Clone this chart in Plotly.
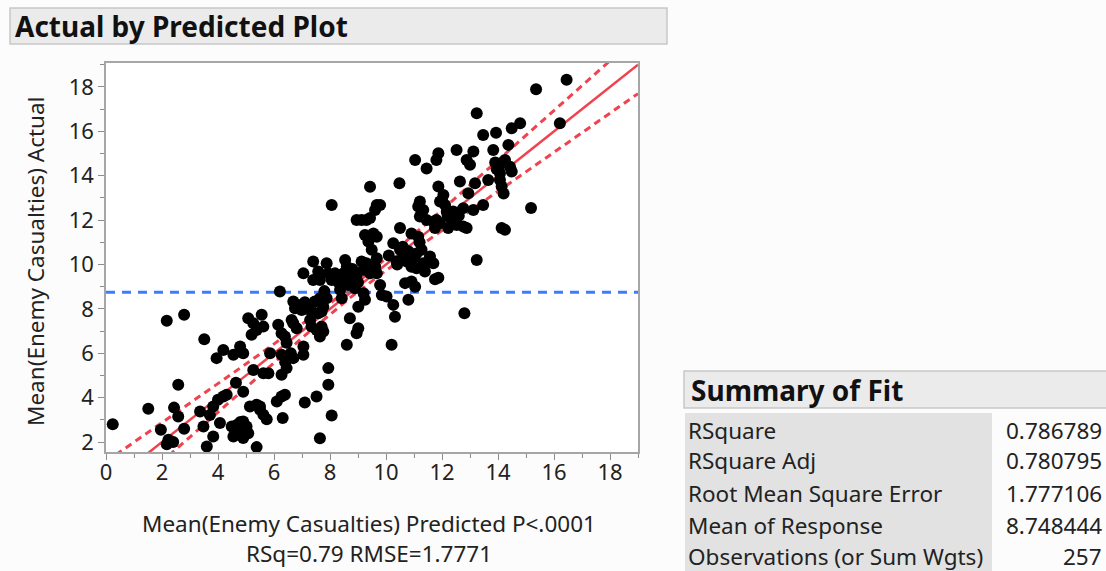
import numpy as np
import plotly.graph_objects as go

# ---------------- data ----------------
predicted = [
    0.24, 1.51, 1.96, 2.23, 2.17, 2.43, 2.58, 2.58, 2.79, 3.36, 3.48, 3.60, 3.51, 3.71, 3.83, 4.00,
    4.19, 4.31, 4.07, 3.83, 3.95, 4.19, 4.64, 4.90, 4.55, 4.79, 4.90, 4.49, 4.67, 4.90, 5.02, 5.08,
    4.90, 4.55, 5.14, 5.38, 5.50, 5.62, 5.74, 5.38, 5.20, 5.38, 5.26, 5.62, 5.80, 5.86, 6.27, 6.45,
    6.69, 6.27, 6.45, 6.10, 6.27, 6.39, 6.31, 7.10, 6.27, 6.39, 6.45, 7.05, 7.05,
    2.17, 2.79, 7.64, 8.06, 7.94, 7.94, 7.52,
    6.21, 7.05, 7.40, 7.40, 7.58, 7.88, 7.94, 7.64, 6.69, 6.87, 6.99, 6.75, 7.29, 7.46, 7.64, 7.34,
    5.08, 5.26, 5.56, 5.62, 6.15, 6.63, 6.69, 6.81, 7.34, 7.52, 7.70, 7.76, 7.64,
    8.54, 8.60, 8.48, 8.71, 8.60, 8.83, 8.95, 8.65, 8.89, 8.36, 8.42, 9.13, 9.30, 9.19, 9.43, 9.67,
    9.49, 9.79, 10.02, 9.25, 9.55, 9.67, 9.37, 10.26, 10.50, 10.62, 10.38, 10.74, 10.91, 11.09, 11.33,
    11.27, 11.15, 10.91, 10.68, 10.91, 9.85, 10.26, 10.32, 10.80, 8.71, 9.01, 8.95, 8.60, 10.20, 9.25,
    9.01, 8.06, 8.18, 7.88, 7.76, 7.70, 7.29, 7.58,
    11.75, 11.87, 11.39, 11.04, 11.09, 9.67, 9.61,
    8.06, 9.43, 10.48, 9.67, 9.79, 9.61, 8.95, 9.13, 9.30, 9.43, 11.04, 11.45, 11.87, 11.80, 12.52,
    13.12, 12.88, 13.00, 13.83, 14.37, 14.25, 14.07, 14.43, 14.49, 13.65, 14.07, 14.13, 14.07, 11.87,
    12.05, 11.93, 12.11, 12.17, 12.64, 13.18, 12.94, 12.76, 13.12, 13.47, 12.40, 12.34, 12.52, 12.76,
    12.88, 12.22, 11.21, 11.15, 11.33, 11.21, 10.50, 11.45, 11.69, 11.80, 11.93, 11.75, 14.13, 14.25,
    13.24, 11.45, 11.69, 11.57,
    16.45, 15.36, 16.21, 13.24, 14.79, 14.49, 13.47, 13.93, 15.18, 12.80, 13.95, 14.20,
    8.70, 8.80, 9.00, 10.60, 10.80, 11.00, 4.70, 4.80, 12.20, 12.60, 7.10, 7.20, 6.40, 5.50, 9.60,
    10.10, 11.20, 12.00, 13.90, 8.30, 7.80, 9.20, 10.40, 6.60, 2.40,
]
actual = [
    2.80, 3.50, 2.55, 2.10, 1.90, 3.55, 3.15, 4.58, 2.60, 3.37, 2.70, 1.80, 6.63, 3.22, 3.60, 3.90,
    4.05, 4.13, 2.86, 2.25, 5.78, 6.15, 4.67, 4.27, 5.93, 6.30, 6.00, 2.70, 2.77, 2.92, 2.70, 2.40,
    2.18, 2.25, 3.60, 3.68, 3.45, 3.23, 3.03, 1.77, 6.83, 7.05, 5.25, 5.10, 5.10, 6.00, 5.93, 5.70,
    5.78, 5.03, 5.33, 3.83, 4.05, 4.13, 3.08, 3.78, 6.90, 6.75, 6.47, 6.30, 5.93,
    7.46, 7.73, 2.17, 3.20, 4.58, 5.33, 4.05,
    8.78, 9.60, 10.13, 9.30, 9.68, 10.06, 9.60, 9.30, 8.33, 8.18, 7.95, 8.03, 8.10, 8.33, 8.48, 7.88,
    7.58, 7.35, 7.73, 7.20, 7.28, 7.50, 7.35, 7.13, 7.20, 7.05, 7.20, 6.98, 6.75,
    10.20, 9.90, 9.60, 9.60, 9.30, 9.30, 9.53, 9.08, 8.93, 8.86, 8.48, 10.13, 10.06, 9.76, 9.60, 10.28,
    10.66, 9.08, 8.56, 11.33, 11.40, 11.25, 11.03, 10.96, 10.66, 10.43, 10.13, 10.13, 9.90, 9.83, 10.06,
    10.66, 11.25, 11.40, 9.16, 9.23, 8.63, 8.18, 7.65, 8.41, 7.58, 7.13, 6.90, 6.38, 6.38, 8.41,
    8.10, 9.30, 9.60, 8.48, 8.10, 7.88, 7.50, 7.80,
    9.34, 9.40, 9.68, 9.00, 10.50, 9.60, 9.90,
    12.68, 13.50, 13.66, 12.68, 12.68, 12.46, 12.00, 12.00, 12.00, 12.09, 14.71, 14.33, 15.01, 14.71, 15.16,
    15.09, 14.71, 14.49, 15.16, 15.39, 14.71, 14.49, 14.41, 14.19, 13.81, 13.81, 13.51, 14.11, 13.51,
    13.13, 12.84, 12.68, 12.38, 13.74, 13.66, 13.21, 12.54, 12.46, 12.68, 12.39, 12.01, 11.78, 11.71,
    11.64, 11.64, 12.84, 12.61, 12.46, 12.16, 11.64, 12.00, 11.93, 12.00, 11.86, 11.64, 11.64, 11.56,
    10.20, 10.06, 10.06, 10.36,
    18.32, 17.90, 16.36, 16.82, 16.36, 16.14, 15.84, 15.94, 12.55, 7.80, 14.30, 13.20,
    9.40, 9.80, 9.20, 10.80, 10.60, 10.30, 2.50, 2.90, 12.20, 12.20, 8.30, 8.00, 5.60, 3.60, 9.90,
    10.40, 11.00, 12.90, 14.60, 9.20, 8.80, 8.70, 10.00, 6.00, 2.00,
]

x_ticks = [0, 2, 4, 6, 8, 10, 12, 14, 16, 18]
y_ticks = [2, 4, 6, 8, 10, 12, 14, 16, 18]
x_range = [0, 19]
y_range = [1.55, 19.08]

mean_response = 8.748444
ci_half_center = 0.22   # half-width of confidence band at the mean
ci_slope = 0.125        # growth of band away from the mean

summary_labels = ["RSquare", "RSquare Adj", "Root Mean Square Error",
                  "Mean of Response", "Observations (or Sum Wgts)"]
summary_values = ["0.786789", "0.780795", "1.777106", "8.748444", "257"]

plot_title = "Actual by Predicted Plot"
x_title_1 = "Mean(Enemy Casualties) Predicted P<.0001"
x_title_2 = "RSq=0.79 RMSE=1.7771"
y_title = "Mean(Enemy Casualties) Actual"
table_title = "Summary of Fit"

# ---------------- layout geometry (pixels) ----------------
W, H = 1106, 571
L, R, T, B = 106, 638, 63, 452
FONT = "Noto Sans, Open Sans, sans-serif"
TXT = 22.5
BOLD = 28
TXT_COLOR = "#222222"


def px(x):
    return (x - L) / (R - L)


def py(y):
    return (B - y) / (B - T)


fig = go.Figure()

xs = np.linspace(x_range[0], x_range[1], 300)
half = np.sqrt(ci_half_center ** 2 + (ci_slope * (xs - mean_response)) ** 2)
red = "#f0424f"
fig.add_trace(go.Scatter(x=[x_range[0], x_range[1]], y=[mean_response, mean_response],
                         mode="lines", line=dict(color="#3d7cff", width=3, dash="9px,7px"),
                         hoverinfo="skip"))
fig.add_trace(go.Scatter(x=xs, y=xs + half, mode="lines",
                         line=dict(color=red, width=3, dash="7px,5px"), hoverinfo="skip"))
fig.add_trace(go.Scatter(x=xs, y=xs - half, mode="lines",
                         line=dict(color=red, width=3, dash="7px,5px"), hoverinfo="skip"))
fig.add_trace(go.Scatter(x=[x_range[0], x_range[1]], y=[x_range[0], x_range[1]], mode="lines",
                         line=dict(color=red, width=2.5), hoverinfo="skip"))

fig.add_trace(go.Scatter(x=predicted, y=actual, mode="markers",
                         marker=dict(color="black", size=12, line=dict(width=0))))

axis_common = dict(showgrid=False, zeroline=False, showline=True, linecolor="#a6a6a6",
                   linewidth=1.5, mirror=True, ticks="outside", ticklen=6, tickwidth=1,
                   tickcolor="#8c8c8c",
                   tickfont=dict(family=FONT, size=22, color=TXT_COLOR),
                   minor=dict(dtick=1, ticks="outside", ticklen=4, tickcolor="#8c8c8c", showgrid=False))

fig.update_xaxes(range=x_range, tickvals=x_ticks, ticklabelstandoff=-6, **axis_common)
fig.update_yaxes(range=y_range, tickvals=y_ticks, **axis_common)

shapes = []
annotations = []

# title bar
shapes.append(dict(type="rect", xref="paper", yref="paper",
                   x0=px(10), x1=px(667), y0=py(44), y1=py(8),
                   fillcolor="#ebebeb", line=dict(color="#c8c8c8", width=1.5), layer="below"))
annotations.append(dict(text=f"<b>{plot_title}</b>", xref="paper", yref="paper",
                        x=px(13), y=py(26), xanchor="left", yanchor="middle", showarrow=False,
                        font=dict(family=FONT, size=BOLD, color="#111111")))

# axis titles
annotations.append(dict(text=y_title, xref="paper", yref="paper", x=px(35), y=py(262),
                        textangle=-90, xanchor="center", yanchor="middle", showarrow=False,
                        font=dict(family=FONT, size=TXT, color=TXT_COLOR)))
annotations.append(dict(text=x_title_1, xref="paper", yref="paper", x=px(369), y=py(523),
                        xanchor="center", yanchor="middle", showarrow=False,
                        font=dict(family=FONT, size=TXT, color=TXT_COLOR)))
annotations.append(dict(text=x_title_2, xref="paper", yref="paper", x=px(369), y=py(553),
                        xanchor="center", yanchor="middle", showarrow=False,
                        font=dict(family=FONT, size=TXT, color=TXT_COLOR)))

# summary of fit table
shapes.append(dict(type="rect", xref="paper", yref="paper",
                   x0=px(684), x1=px(1110), y0=py(408), y1=py(371),
                   fillcolor="#ebebeb", line=dict(color="#c8c8c8", width=1.5), layer="below"))
annotations.append(dict(text=f"<b>{table_title}</b>", xref="paper", yref="paper",
                        x=px(689), y=py(390), xanchor="left", yanchor="middle", showarrow=False,
                        font=dict(family=FONT, size=BOLD, color="#111111")))
shapes.append(dict(type="rect", xref="paper", yref="paper",
                   x0=px(685), x1=px(992), y0=py(575), y1=py(413),
                   fillcolor="#e2e2e2", line=dict(width=0), layer="below"))
row_y = [430, 461, 493, 525, 556]
for lab, val, yy in zip(summary_labels, summary_values, row_y):
    annotations.append(dict(text=lab, xref="paper", yref="paper", x=px(686), y=py(yy),
                            xanchor="left", yanchor="middle", showarrow=False,
                            font=dict(family=FONT, size=TXT, color=TXT_COLOR)))
    annotations.append(dict(text=val, xref="paper", yref="paper", x=px(1104), y=py(yy),
                            xanchor="right", yanchor="middle", showarrow=False,
                            font=dict(family=FONT, size=TXT, color=TXT_COLOR)))

fig.update_layout(width=W, height=H, margin=dict(l=L, r=W - R, t=T, b=H - B),
                  paper_bgcolor="#fcfcfc", plot_bgcolor="white", showlegend=False,
                  shapes=shapes, annotations=annotations)

fig.write_html("out.html", config={"displayModeBar": False},
               post_script="document.body.style.margin='0';document.body.style.overflow='hidden';")
